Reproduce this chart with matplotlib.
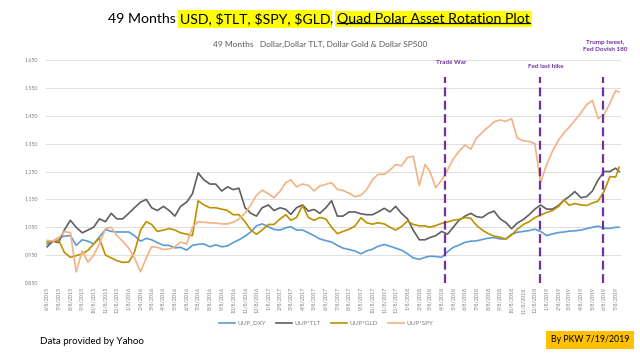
import numpy as np
import pandas as pd
import matplotlib
matplotlib.use('Agg')
import matplotlib.pyplot as plt
from matplotlib.lines import Line2D

plt.rcParams['font.family'] = ['Lato', 'DejaVu Sans']

# sample dates: 8th and 23rd of each month, last close 7/17/2019
dates = []
for mo in pd.date_range('2015-06-01', '2019-07-01', freq='MS'):
    dates.append(mo + pd.Timedelta(days=7))
    dates.append(mo + pd.Timedelta(days=22))
dates = dates[:-1] + [pd.Timestamp('2019-07-17')]

uup_dxy = [0.99, 1.00, 1.012, 1.018, 1.02, 0.985, 1.005, 1.0, 0.99, 1.015,
           1.042, 1.035, 1.033, 1.033, 1.033, 1.02, 1.0, 1.01, 1.005, 0.995,
           0.985, 0.985, 0.976, 0.978, 0.968, 0.985, 0.989, 0.99, 0.98, 0.987,
           0.98, 0.983, 0.995, 1.005, 1.018, 1.033, 1.055, 1.062, 1.052, 1.042,
           1.04, 1.048, 1.052, 1.04, 1.04, 1.03, 1.02, 1.008, 1.002, 0.997,
           0.985, 0.975, 0.97, 0.965, 0.955, 0.965, 0.971, 0.982, 0.988, 0.982,
           0.975, 0.968, 0.955, 0.94, 0.935, 0.942, 0.946, 0.945, 0.942, 0.962,
           0.978, 0.986, 0.996, 1.0, 1.001, 1.006, 1.011, 1.013, 1.008, 1.008,
           1.025, 1.032, 1.035, 1.038, 1.043, 1.035, 1.02, 1.026, 1.031, 1.033,
           1.036, 1.037, 1.04, 1.045, 1.05, 1.054, 1.046, 1.046, 1.05, 1.05]

uup_tlt = [0.98, 1.00, 0.995, 1.04, 1.075, 1.05, 1.03, 1.04, 1.05, 1.08,
           1.07, 1.10, 1.08, 1.08, 1.10, 1.12, 1.14, 1.15, 1.12, 1.11,
           1.125, 1.11, 1.09, 1.125, 1.14, 1.17, 1.245, 1.22, 1.205, 1.205,
           1.18, 1.195, 1.185, 1.19, 1.12, 1.10, 1.09, 1.12, 1.13, 1.11,
           1.12, 1.114, 1.096, 1.12, 1.13, 1.108, 1.114, 1.10, 1.12, 1.145,
           1.09, 1.09, 1.105, 1.105, 1.098, 1.095, 1.095, 1.105, 1.118, 1.105,
           1.125, 1.10, 1.08, 1.04, 1.005, 1.005, 1.013, 1.02, 1.035, 1.025,
           1.05, 1.075, 1.09, 1.10, 1.088, 1.085, 1.10, 1.108, 1.08, 1.067,
           1.045, 1.065, 1.078, 1.095, 1.115, 1.13, 1.115, 1.115, 1.128, 1.148,
           1.16, 1.178, 1.156, 1.16, 1.18, 1.22, 1.25, 1.25, 1.262, 1.25]

uup_gld = [0.997, 1.0, 1.005, 0.96, 0.942, 0.948, 0.955, 0.967, 0.99, 1.01,
           0.95, 0.94, 0.93, 0.924, 0.925, 0.96, 1.04, 1.07, 1.06, 1.035,
           1.04, 1.045, 1.04, 1.03, 1.025, 1.02, 1.145, 1.13, 1.12, 1.12,
           1.115, 1.11, 1.095, 1.095, 1.07, 1.04, 1.025, 1.04, 1.06, 1.06,
           1.08, 1.095, 1.075, 1.085, 1.128, 1.085, 1.075, 1.085, 1.08, 1.05,
           1.027, 1.035, 1.043, 1.054, 1.084, 1.066, 1.061, 1.066, 1.062, 1.05,
           1.04, 1.052, 1.072, 1.06, 1.055, 1.055, 1.05, 1.056, 1.064, 1.069,
           1.075, 1.078, 1.085, 1.082, 1.057, 1.04, 1.027, 1.018, 1.014, 1.007,
           1.022, 1.043, 1.06, 1.07, 1.084, 1.094, 1.103, 1.11, 1.124, 1.148,
           1.129, 1.135, 1.13, 1.128, 1.137, 1.144, 1.18, 1.232, 1.23, 1.265]

uup_spy = [1.003, 1.0, 1.01, 1.035, 1.03, 0.89, 0.965, 0.925, 0.95, 0.99,
           1.045, 1.05, 1.02, 1.0, 0.975, 0.94, 0.89, 0.94, 0.98, 0.978,
           0.97, 0.972, 0.98, 0.997, 0.99, 1.05, 1.07, 1.068, 1.066, 1.065,
           1.062, 1.062, 1.068, 1.08, 1.1, 1.13, 1.165, 1.183, 1.17, 1.156,
           1.18, 1.21, 1.22, 1.195, 1.205, 1.2, 1.18, 1.198, 1.204, 1.21,
           1.186, 1.182, 1.172, 1.16, 1.165, 1.185, 1.22, 1.24, 1.24, 1.255,
           1.275, 1.27, 1.3, 1.305, 1.2, 1.275, 1.25, 1.192, 1.22, 1.255,
           1.295, 1.322, 1.345, 1.33, 1.37, 1.39, 1.41, 1.428, 1.435, 1.43,
           1.44, 1.37, 1.36, 1.358, 1.35, 1.21, 1.275, 1.322, 1.362, 1.39,
           1.408, 1.434, 1.46, 1.49, 1.505, 1.44, 1.455, 1.495, 1.54, 1.535]

series = [('UUP_DXY', uup_dxy, '#5B9BD5'),
          ('UUP*TLT', uup_tlt, '#5F5F5F'),
          ('UUP*GLD', uup_gld, '#BF9000'),
          ('UUP*SPY', uup_spy, '#F4B183')]

events = [('2018-04-16', 'Trade War'),
          ('2018-12-21', 'Fed last hike'),
          ('2019-06-05', 'Trump tweet,\nFed Dovish 180')]

month_ticks = pd.date_range('2015-06-08', '2019-07-08', freq=pd.DateOffset(months=1))

fig = plt.figure(figsize=(6.4, 3.6), dpi=100)
ax = fig.add_axes([46/640, 1-283/360, 575/640, 223/360])

for name, vals, col in series:
    ax.plot(dates, vals, color=col, lw=1.2, label=name)

ax.set_ylim(0.85, 1.65)
ax.set_yticks(np.arange(0.85, 1.651, 0.1))
ax.set_yticklabels([f'{v:.3f}' for v in np.arange(0.85, 1.651, 0.1)])
ax.set_xlim(pd.Timestamp('2015-06-05'), pd.Timestamp('2019-07-22'))
ax.set_xticks(month_ticks)
ax.set_xticklabels([f'{d.month}/{d.day}/{d.year}' for d in month_ticks], rotation=90)
ax.grid(axis='y', color='#D9D9D9', lw=0.6)
ax.set_axisbelow(True)
for s in ax.spines.values():
    s.set_visible(False)
ax.tick_params(axis='y', length=0, labelsize=3.8, labelcolor='#7F7F7F', pad=5.5)
ax.tick_params(axis='x', length=0, labelsize=3.8, labelcolor='#7F7F7F', pad=3)

purple = '#7030A0'
offsets = [(6, -3), (6, -6), (2, 14)]
for (d, lab), (dx, dy) in zip(events, offsets):
    ax.axvline(pd.Timestamp(d), ymin=0, ymax=0.924, color=purple, lw=1.6,
               dashes=(4, 2))
    ax.annotate(lab, xy=(pd.Timestamp(d), 1.0), xycoords=('data', 'axes fraction'),
                xytext=(dx, dy), textcoords='offset pixels', ha='center', va='center',
                fontsize=4.6, color=purple, fontweight='bold', linespacing=1.6)

fig.legend(loc='center', bbox_to_anchor=(326/640, 1-323/360), ncol=4, frameon=False,
           fontsize=4.5, handlelength=2.6, columnspacing=1.6, handletextpad=0.4,
           labelcolor='#7F7F7F')

fig.text(320/640, 1-44/360, '49 Months   Dollar,Dollar TLT, Dollar Gold & Dollar SP500',
         ha='center', va='center', fontsize=6, color='#595959')
fig.text(40/640, 1-341/360, 'Data provided by Yahoo', ha='left', va='center',
         fontsize=7, color='black')
fig.text(590/640, 1-340/360, 'By PKW 7/19/2019', ha='center', va='center',
         fontsize=6.3, color='black',
         bbox=dict(boxstyle='square,pad=0.5', facecolor='#FFC000', edgecolor='none'))

# title built from runs, some highlighted
runs = [('49 Months ', None, False),
        ('USD, $TLT, $SPY, $GLD', '#FFFF00', False),
        (', ', None, False),
        ('Quad Polar Asset Rotation Plot', '#FFFF00', True)]
r = fig.canvas.get_renderer()
size = 12
texts = [fig.text(0, 0, s, fontsize=size, parse_math=False) for s, _, _ in runs]
w = sum(t.get_window_extent(r).width for t in texts)
size = size * 422 / w
for t in texts:
    t.set_fontsize(size)
widths = [t.get_window_extent(r).width for t in texts]
x = 319 - sum(widths) / 2
ypix = 360 - 19
for t, (s, bg, ul), wd in zip(texts, runs, widths):
    t.set_position((x / 640, ypix / 360))
    t.set_va('center')
    if bg:
        t.set_bbox(dict(boxstyle='square,pad=0.15', facecolor=bg, edgecolor='none'))
    if ul:
        bb = t.get_window_extent(r)
        yl = (bb.y0 + 2) / 360
        fig.add_artist(Line2D([x / 640, (x + wd) / 640], [yl, yl], color='black',
                              lw=0.9, zorder=10))
    x += wd

fig.savefig('out.png', dpi=100, facecolor='white')
